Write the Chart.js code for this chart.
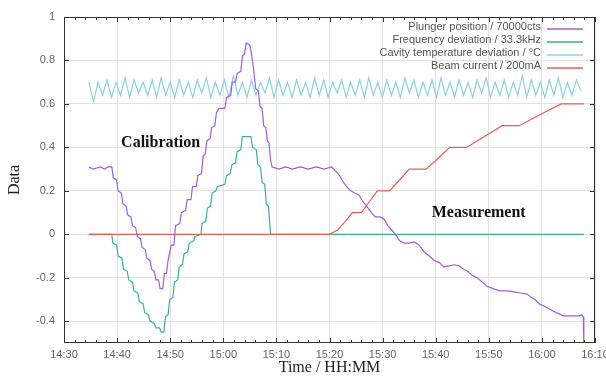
<!DOCTYPE html>
<html>
<head>
<meta charset="utf-8">
<script src="https://cdn.jsdelivr.net/npm/chart.js@4"></script>
<style>
  html, body { margin: 0; padding: 0; background: #fff; }
  #wrap { width: 606px; height: 383px; }
</style>
</head>
<body>
<div id="wrap"><canvas id="chart" width="606" height="383"></canvas></div>
<script>
// time in minutes after 14:30
var xTickLabels = ['14:30', '14:40', '14:50', '15:00', '15:10', '15:20', '15:30', '15:40', '15:50', '16:00', '16:10'];
var yTickValues = [-0.4, -0.2, 0, 0.2, 0.4, 0.6, 0.8, 1];

var plungerT = [4.7, 5.5, 6.2, 6.9, 7.6, 8.3, 9.0, 9.3, 9.9, 10.2, 10.8, 11.1, 11.7, 12.0, 12.6, 12.9, 13.5, 13.8, 14.4, 14.7,
  15.3, 15.6, 16.2, 16.5, 17.0, 17.3, 17.8, 18.1, 18.6, 18.9, 19.3, 19.6, 20.2, 20.7, 21.0, 21.8, 22.1, 22.9, 23.2, 23.9,
  24.2, 24.9, 25.2, 25.9, 26.2, 26.6, 26.9, 27.5, 27.8, 28.4, 28.7, 29.2, 30.3, 30.6, 31.4, 31.7, 32.3, 32.6, 33.3, 33.6,
  34.0, 34.3, 35.0, 35.3, 35.7, 36.1, 36.6, 36.9, 37.3, 37.6, 38.0, 38.3, 38.6, 38.9, 39.2, 40.5, 41.8, 43.0, 44.5, 46.0,
  47.5, 49.0, 50.4, 51.2, 51.9, 52.6, 53.2, 54.0, 54.7, 55.6, 56.3, 57.0, 57.9, 58.6, 59.6, 60.3, 61.0, 61.7, 62.4, 63.2,
  64.1, 65.0, 66.0, 66.9, 67.8, 68.8, 69.7, 70.7, 71.5, 72.5, 73.5, 74.4, 75.2, 76.0, 77.0, 77.8, 78.8, 79.7, 80.8, 82.0,
  83.5, 84.8, 86.0, 87.2, 88.0, 88.7, 89.5, 90.4, 91.2, 91.9, 92.6, 93.2, 94.0, 95.5, 97.0, 97.5, 97.8, 97.9];
var plungerV = [0.31, 0.30, 0.305, 0.31, 0.30, 0.31, 0.31, 0.26, 0.25, 0.20, 0.19, 0.14, 0.13, 0.09, 0.08, 0.04, 0.03, -0.01, -0.02, -0.06,
  -0.07, -0.11, -0.12, -0.16, -0.17, -0.21, -0.21, -0.25, -0.25, -0.18, -0.18, -0.12, -0.05, -0.05, 0.04, 0.05, 0.10, 0.11, 0.16, 0.16,
  0.22, 0.22, 0.27, 0.28, 0.36, 0.37, 0.43, 0.44, 0.49, 0.50, 0.56, 0.58, 0.58, 0.63, 0.64, 0.70, 0.70, 0.74, 0.75, 0.82,
  0.83, 0.88, 0.87, 0.83, 0.76, 0.67, 0.66, 0.59, 0.58, 0.50, 0.49, 0.43, 0.42, 0.34, 0.31, 0.30, 0.31, 0.30, 0.31, 0.30,
  0.31, 0.30, 0.31, 0.29, 0.27, 0.24, 0.22, 0.20, 0.19, 0.18, 0.15, 0.13, 0.10, 0.08, 0.08, 0.07, 0.04, 0.02, 0.00, -0.03,
  -0.04, -0.04, -0.035, -0.05, -0.08, -0.10, -0.12, -0.13, -0.15, -0.145, -0.14, -0.145, -0.16, -0.17, -0.19, -0.20, -0.22, -0.24, -0.25, -0.26,
  -0.26, -0.265, -0.27, -0.275, -0.29, -0.30, -0.32, -0.33, -0.34, -0.35, -0.36, -0.365, -0.375, -0.375, -0.375, -0.37, -0.38, -0.52];

var freqT = [4.7, 9.0, 9.2, 9.9, 10.2, 10.9, 11.2, 11.9, 12.2, 12.9, 13.2, 13.9, 14.2, 14.9, 15.2, 15.9, 16.2, 17.0, 17.3, 18.0,
  18.3, 18.8, 19.1, 19.6, 19.9, 20.5, 20.8, 21.4, 21.7, 22.3, 22.6, 23.3, 23.6, 24.4, 24.7, 25.8, 26.0, 26.7, 27.0, 27.6,
  27.9, 28.6, 28.9, 30.3, 30.6, 31.3, 31.6, 32.3, 32.6, 33.3, 33.6, 35.2, 35.5, 36.2, 36.5, 37.0, 37.3, 37.8, 38.1, 38.5,
  38.9, 97.9];
var freqV = [0, 0, -0.04, -0.05, -0.10, -0.11, -0.16, -0.17, -0.21, -0.22, -0.26, -0.27, -0.31, -0.32, -0.36, -0.37, -0.40, -0.41, -0.43, -0.43,
  -0.45, -0.45, -0.38, -0.37, -0.30, -0.29, -0.22, -0.21, -0.15, -0.14, -0.09, -0.08, -0.04, -0.03, -0.01, 0, 0.05, 0.06, 0.12, 0.13,
  0.19, 0.20, 0.22, 0.23, 0.27, 0.28, 0.32, 0.33, 0.38, 0.39, 0.45, 0.45, 0.40, 0.39, 0.32, 0.31, 0.24, 0.23, 0.14, 0.13,
  0, 0];

// cavity temperature samples, every 0.85 min from 14:34.7
var cavityStart = 4.7;
var cavityStep = 0.85;
var cavityV = [0.70, 0.61, 0.70, 0.64, 0.71, 0.63, 0.70, 0.64, 0.72, 0.63, 0.71, 0.65, 0.70, 0.64, 0.71, 0.63, 0.72, 0.64, 0.70, 0.63,
  0.71, 0.64, 0.70, 0.63, 0.71, 0.65, 0.72, 0.63, 0.70, 0.64, 0.71, 0.63, 0.73, 0.64, 0.70, 0.63, 0.71, 0.64, 0.70, 0.65,
  0.72, 0.63, 0.71, 0.64, 0.70, 0.63, 0.71, 0.64, 0.70, 0.63, 0.72, 0.64, 0.71, 0.63, 0.70, 0.65, 0.71, 0.63, 0.70, 0.64,
  0.71, 0.63, 0.72, 0.64, 0.70, 0.63, 0.71, 0.64, 0.70, 0.63, 0.72, 0.65, 0.71, 0.63, 0.70, 0.64, 0.71, 0.63, 0.72, 0.64,
  0.70, 0.63, 0.71, 0.64, 0.70, 0.63, 0.71, 0.65, 0.72, 0.63, 0.70, 0.64, 0.71, 0.63, 0.70, 0.64, 0.73, 0.63, 0.71, 0.64,
  0.70, 0.63, 0.71, 0.64, 0.72, 0.63, 0.70, 0.64, 0.71, 0.66];

var beamT = [4.7, 50.0, 51.5, 53.0, 54.3, 56.0, 57.5, 59.0, 61.3, 63.2, 65.0, 68.2, 70.5, 72.6, 75.8, 79.2, 82.5, 85.7, 89.6, 93.6, 97.9];
var beamV = [0, 0, 0.02, 0.06, 0.10, 0.10, 0.15, 0.20, 0.20, 0.25, 0.30, 0.30, 0.35, 0.40, 0.40, 0.45, 0.50, 0.50, 0.55, 0.60, 0.60];

var seriesNames = ['Plunger position / 70000cts', 'Frequency deviation / 33.3kHz', 'Cavity temperature deviation / \u00b0C', 'Beam current / 200mA'];
var seriesColors = ['#a05fd6', '#3fae98', '#8fd0e2', '#e0605a'];

function pairs(t, v) {
  return v.map(function (y, i) { return { x: t[i], y: y }; });
}
var cavityT = cavityV.map(function (_, i) { return cavityStart + i * cavityStep; });

// frame, inward ticks, legend and labels
var decor = {
  id: 'decor',
  afterDatasetsDraw: function (chart) {
    var ctx = chart.ctx, a = chart.chartArea;
    var xs = chart.scales.x, ys = chart.scales.y;
    ctx.save();
    ctx.strokeStyle = '#333';
    ctx.lineWidth = 1;
    ctx.strokeRect(a.left + 0.5, a.top + 0.5, a.right - a.left - 1, a.bottom - a.top - 1);
    ctx.beginPath();
    for (var m = 0; m <= 100; m += 2) {
      var px = Math.round(xs.getPixelForValue(m)) + 0.5;
      var len = (m % 10 === 0) ? 5 : 3;
      ctx.moveTo(px, a.bottom); ctx.lineTo(px, a.bottom - len);
      ctx.moveTo(px, a.top); ctx.lineTo(px, a.top + len);
    }
    yTickValues.forEach(function (v) {
      var py = Math.round(ys.getPixelForValue(v)) + 0.5;
      ctx.moveTo(a.left, py); ctx.lineTo(a.left + 5, py);
      ctx.moveTo(a.right, py); ctx.lineTo(a.right - 5, py);
    });
    ctx.stroke();

    // legend: text right-aligned, sample line on the right
    ctx.font = '11px "Liberation Sans", Arial, sans-serif';
    ctx.textAlign = 'right';
    ctx.textBaseline = 'middle';
    seriesNames.forEach(function (name, i) {
      var y = 27 + i * 13;
      ctx.fillStyle = '#555';
      ctx.fillText(name, 541, y);
      ctx.strokeStyle = seriesColors[i];
      ctx.lineWidth = 1.3;
      ctx.beginPath();
      ctx.moveTo(547, y + 2); ctx.lineTo(583, y + 2);
      ctx.stroke();
    });

    ctx.fillStyle = '#111';
    ctx.font = 'bold 16px "Liberation Serif", "Times New Roman", serif';
    ctx.textAlign = 'center';
    ctx.fillText('Calibration', xs.getPixelForValue(18.2), ys.getPixelForValue(0.42));
    ctx.fillText('Measurement', xs.getPixelForValue(78.1), ys.getPixelForValue(0.10));
    ctx.restore();
  }
};

var ctx = document.getElementById('chart').getContext('2d');
var chart = new Chart(ctx, {
  type: 'line',
  data: {
    datasets: [
      { label: seriesNames[0], data: pairs(plungerT, plungerV), borderColor: seriesColors[0], order: 0 },
      { label: seriesNames[1], data: pairs(freqT, freqV), borderColor: seriesColors[1], order: 3 },
      { label: seriesNames[2], data: pairs(cavityT, cavityV), borderColor: seriesColors[2], order: 2 },
      { label: seriesNames[3], data: pairs(beamT, beamV), borderColor: seriesColors[3], order: 1 }
    ]
  },
  options: {
    responsive: false,
    animation: false,
    devicePixelRatio: 1,
    layout: { padding: { left: 0, right: 11, top: 17, bottom: 0 } },
    elements: {
      point: { radius: 0 },
      line: { borderWidth: 1.2, tension: 0, fill: false }
    },
    plugins: {
      legend: { display: false },
      tooltip: { enabled: false }
    },
    scales: {
      x: {
        type: 'linear',
        min: 0,
        max: 100,
        afterBuildTicks: function (s) {
          s.ticks = xTickLabels.map(function (_, i) { return { value: i * 10 }; });
        },
        afterFit: function (s) { s.height = 40; s.paddingLeft = 0; s.paddingRight = 0; },
        grid: { color: '#e2e2e2', drawTicks: false },
        border: { display: false },
        ticks: {
          padding: 5,
          color: '#666',
          font: { family: '"Liberation Sans", Arial, sans-serif', size: 11 },
          maxRotation: 0,
          autoSkip: false,
          callback: function (v) { return xTickLabels[Math.round(v / 10)]; }
        },
        title: {
          display: true,
          text: 'Time / HH:MM',
          color: '#222',
          padding: { top: 0, bottom: 6 },
          font: { family: '"Liberation Serif", "Times New Roman", serif', size: 16 }
        }
      },
      y: {
        min: -0.5,
        max: 1,
        afterBuildTicks: function (s) {
          s.ticks = yTickValues.map(function (v) { return { value: v }; });
        },
        afterFit: function (s) { s.width = 64; s.paddingTop = 0; s.paddingBottom = 0; },
        grid: { color: '#e2e2e2', drawTicks: false },
        border: { display: false },
        ticks: {
          padding: 9,
          color: '#666',
          font: { family: '"Liberation Sans", Arial, sans-serif', size: 11 },
          callback: function (v) { return String(Math.round(v * 10) / 10); }
        },
        title: {
          display: true,
          text: 'Data',
          color: '#222',
          padding: { top: 5, bottom: 0 },
          font: { family: '"Liberation Serif", "Times New Roman", serif', size: 16 }
        }
      }
    }
  },
  plugins: [decor]
});
</script>
</body>
</html>
